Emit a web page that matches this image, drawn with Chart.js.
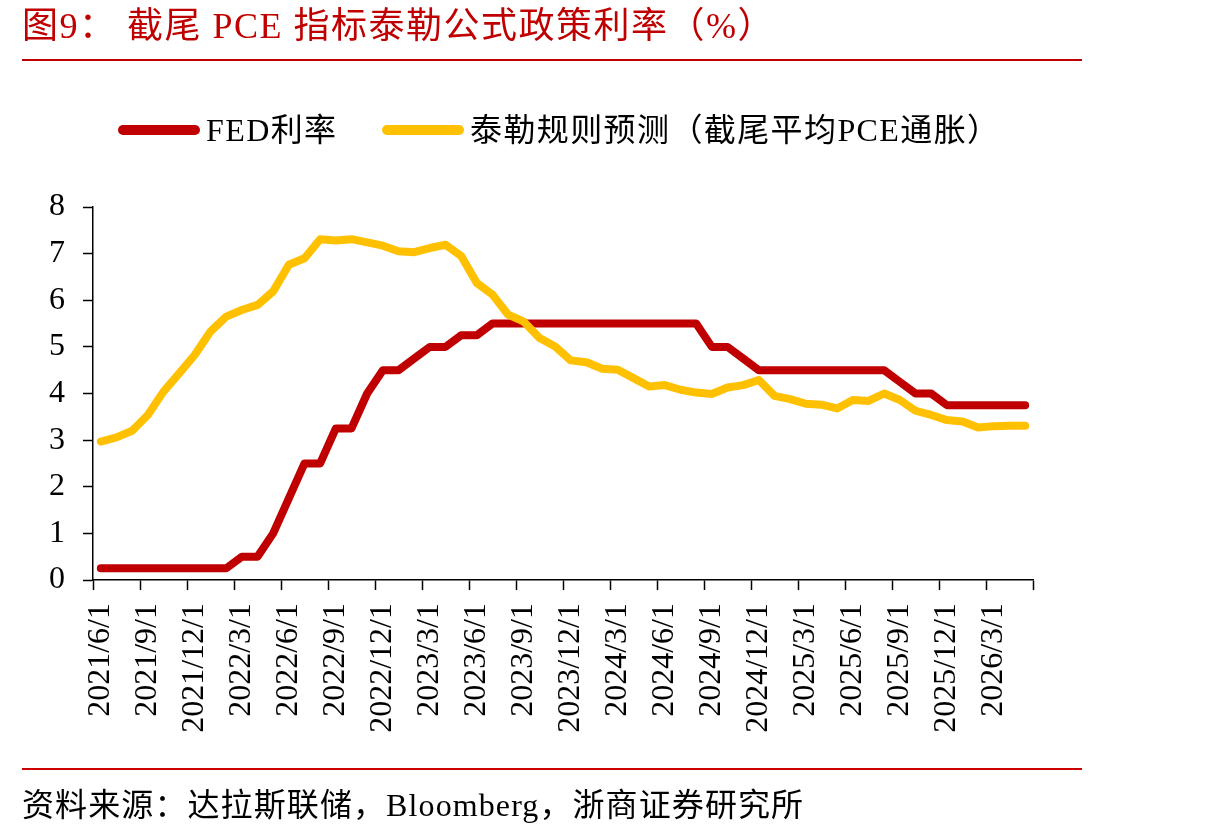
<!DOCTYPE html>
<html><head><meta charset="utf-8">
<script src="https://cdn.jsdelivr.net/npm/chart.js@4"></script>
<style>
html,body{margin:0;padding:0;background:#fff;}
body{width:1210px;height:838px;position:relative;overflow:hidden;font-family:"Liberation Serif","Noto Sans CJK SC",serif;}
#c{position:absolute;left:0;top:0;}
.t{position:absolute;white-space:pre;}
#title{left:22px;top:4px;font-size:36px;color:#c00000;line-height:44px;letter-spacing:1.5px;}
.rule{position:absolute;left:22px;width:1060px;height:2px;background:#c00000;}
#src{left:22px;top:785px;font-size:32px;line-height:40px;color:#000;letter-spacing:1.1px;}
.leg{position:absolute;height:10px;border-radius:5px;width:82px;top:125px;}
.legt{position:absolute;top:110px;font-size:32px;line-height:40px;color:#000;white-space:pre;letter-spacing:1.4px;}
</style></head>
<body>
<canvas id="c" width="1210" height="838"></canvas>
<div class="t" id="title">图9： 截尾 PCE 指标泰勒公式政策利率（%）</div>
<div class="rule" style="top:59px"></div>
<div class="leg" style="left:118px;background:#c00000"></div>
<div class="legt" style="left:206px">FED利率</div>
<div class="leg" style="left:382px;background:#ffc000"></div>
<div class="legt" style="left:470px">泰勒规则预测（截尾平均PCE通胀）</div>
<div class="rule" style="top:768px;background:#cc0000"></div>
<div class="t" id="src">资料来源：达拉斯联储，Bloomberg，浙商证券研究所</div>
<script>
const categories = [
 "2021/6/1","2021/7/1","2021/8/1","2021/9/1","2021/10/1","2021/11/1","2021/12/1",
 "2022/1/1","2022/2/1","2022/3/1","2022/4/1","2022/5/1","2022/6/1","2022/7/1","2022/8/1","2022/9/1","2022/10/1","2022/11/1","2022/12/1",
 "2023/1/1","2023/2/1","2023/3/1","2023/4/1","2023/5/1","2023/6/1","2023/7/1","2023/8/1","2023/9/1","2023/10/1","2023/11/1","2023/12/1",
 "2024/1/1","2024/2/1","2024/3/1","2024/4/1","2024/5/1","2024/6/1","2024/7/1","2024/8/1","2024/9/1","2024/10/1","2024/11/1","2024/12/1",
 "2025/1/1","2025/2/1","2025/3/1","2025/4/1","2025/5/1","2025/6/1","2025/7/1","2025/8/1","2025/9/1","2025/10/1","2025/11/1","2025/12/1",
 "2026/1/1","2026/2/1","2026/3/1","2026/4/1","2026/5/1"
];
const fedRate = [
 0.25,0.25,0.25,0.25,0.25,0.25,0.25,
 0.25,0.25,0.5,0.5,1.0,1.75,2.5,2.5,3.25,3.25,4.0,4.5,
 4.5,4.75,5.0,5.0,5.25,5.25,5.5,5.5,5.5,5.5,5.5,5.5,
 5.5,5.5,5.5,5.5,5.5,5.5,5.5,5.5,5.0,5.0,4.75,4.5,
 4.5,4.5,4.5,4.5,4.5,4.5,4.5,4.5,4.25,4.0,4.0,3.75,
 3.75,3.75,3.75,3.75,3.75
];
const taylorRule = [
 2.97,3.06,3.20,3.54,4.04,4.43,4.83,
 5.33,5.65,5.79,5.90,6.19,6.76,6.90,7.31,7.28,7.31,7.24,7.17,
 7.05,7.03,7.12,7.19,6.95,6.37,6.12,5.69,5.54,5.19,5.01,4.71,
 4.67,4.53,4.51,4.33,4.15,4.18,4.08,4.02,3.99,4.13,4.18,4.29,
 3.95,3.88,3.78,3.76,3.68,3.86,3.84,4.00,3.86,3.63,3.54,3.43,
 3.40,3.27,3.30,3.31,3.31
];
const yTicks = [0,1,2,3,4,5,6,7,8];

const tickFont = {family:"Liberation Serif", size:32};
new Chart(document.getElementById('c'), {
  type:'line',
  data:{labels:categories, datasets:[
    {label:'FED利率', data:fedRate, borderColor:'#c00000', backgroundColor:'#c00000', borderWidth:8, pointRadius:0, tension:0, borderCapStyle:'round', borderJoinStyle:'round', fill:false, order:1},
    {label:'泰勒规则预测（截尾平均PCE通胀）', data:taylorRule, borderColor:'#ffc000', backgroundColor:'#ffc000', borderWidth:8, pointRadius:0, tension:0, borderCapStyle:'round', borderJoinStyle:'round', fill:false, order:0}
  ]},
  options:{
    responsive:false, animation:false, devicePixelRatio:1,
    layout:{padding:{left:0, top:207, right:177, bottom:0}},
    plugins:{legend:{display:false}, tooltip:{enabled:false}},
    scales:{
      x:{
        offset:true,
        grid:{offset:true, drawOnChartArea:false, drawTicks:true, tickLength:10, tickWidth:1.5,
          tickColor:(c)=> (c.index===undefined || c.index%3===0) ? '#000' : 'rgba(0,0,0,0)'},
        border:{display:true, color:'#000', width:1.5},
        ticks:{autoSkip:false, minRotation:90, maxRotation:90, padding:13, color:'#000', font:tickFont,
          callback:(v,i)=> i%3===0 ? categories[i] : ''},
        afterFit:(s)=>{ s.height = 838-580; }
      },
      y:{
        min:0, max:8,
        afterBuildTicks:(s)=>{ s.ticks = yTicks.map(v=>({value:v})); },
        ticks:{padding:18, color:'#000', font:tickFont},
        grid:{drawOnChartArea:false, drawTicks:true, tickLength:10, tickWidth:1.5, tickColor:'#000'},
        border:{display:true, color:'#000', width:1.5},
        afterFit:(s)=>{ s.width = 93; }
      }
    }
  }
});
</script>
</body></html>
